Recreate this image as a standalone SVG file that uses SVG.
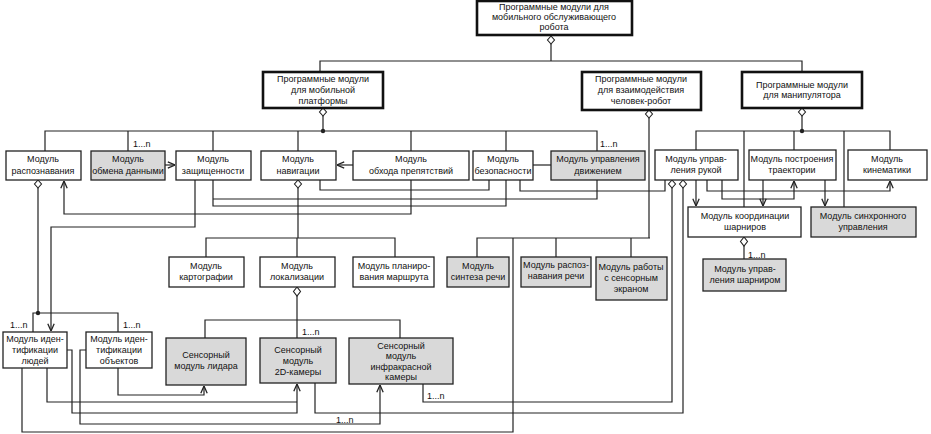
<svg xmlns="http://www.w3.org/2000/svg" width="931" height="434" viewBox="0 0 931 434">
<defs>
<style>
.b{fill:#fff;stroke:#222;stroke-width:1.3}
.g{fill:#d9d9d9;stroke:#222;stroke-width:1.3}
.t{fill:#fff;stroke:#111;stroke-width:2.6}
text{font-family:"Liberation Sans",Arial,sans-serif;font-size:9px;fill:#111;text-anchor:middle}
.l{text-anchor:start}
.c{fill:none;stroke:#222;stroke-width:1.2}
.a{fill:none;stroke:#222;stroke-width:1.2;marker-end:url(#ar)}
.d{fill:#fff;stroke:#222;stroke-width:1.1}
</style>
<marker id="ar" viewBox="0 0 10 10" refX="10" refY="5" markerWidth="8" markerHeight="8" markerUnits="userSpaceOnUse" orient="auto">
<path d="M1,1 L10,5 L1,9" fill="none" stroke="#222" stroke-width="1.6"/>
</marker>
</defs>
<rect width="931" height="434" fill="#fff"/>
<g id="connectors">
<path class="c" d="M551,44V61M320,72V61H802V72"/>
<path class="c" d="M323,116V131M45,151V131H597V151M128,131V151M213,131V151M298,131V151M411,131V151M506,131V151"/>
<path class="c" d="M649,118V238M477,257V238H650M556,238V257M631,238V257"/>
<path class="c" d="M802,116V131M696,150V131H890V150M744,131V207M794,131V150M844,131V207"/>
<path class="a" d="M165,165H175"/>
<path class="a" d="M353,165H337"/>
<path class="c" d="M533,165H551"/>
<path class="c" d="M320,180V190H489V180"/>
<path class="c" d="M213,180V206H506V180M213,199H597V180"/>
<path class="a" d="M411,180V214H64V181"/>
<path class="c" d="M520,180V191H665V180"/>
<path class="a" d="M195,180V227H51V331"/>
<path class="a" d="M696,180V206"/>
<path class="a" d="M707,180V191H890V181"/>
<path class="a" d="M722,180V199H794V181"/>
<path class="a" d="M763,180V206"/>
<path class="a" d="M825,180V206"/>
<path class="c" d="M744,246V259"/>
<path class="c" d="M298,188V238M206,257V238H395V257M297,238V257"/>
<path class="c" d="M297,296V338M205,338V320H400V338"/>
<path class="c" d="M38,188V313M33,332V313H118V332"/>
<path class="c" d="M22,368V432H513V238"/>
<path class="a" d="M118,368V395H204V386"/>
<path class="a" d="M67,350H72V413H297V384"/>
<path class="a" d="M86,350H80V424H380V385"/>
<path class="c" d="M672,188V402H423V384"/>
<path class="c" d="M683,188V413H315V383"/>
<path class="c" d="M47,368V402H297"/>
<path class="d" d="M551,36l-3.5,4 3.5,4 3.5,-4z"/>
<path class="d" d="M323,108l-3.5,4 3.5,4 3.5,-4z"/>
<path class="d" d="M649,110l-3.5,4 3.5,4 3.5,-4z"/>
<path class="d" d="M802,108l-3.5,4 3.5,4 3.5,-4z"/>
<path class="d" d="M38,180l-3.5,4 3.5,4 3.5,-4z"/>
<path class="d" d="M298,180l-3.5,4 3.5,4 3.5,-4z"/>
<path class="d" d="M672,180l-3.5,4 3.5,4 3.5,-4z"/>
<path class="d" d="M683,180l-3.5,4 3.5,4 3.5,-4z"/>
<path class="d" d="M744,237l-3.5,4.5 3.5,4.5 3.5,-4.5z"/>
<path class="d" d="M297,287l-3.5,4.5 3.5,4.5 3.5,-4.5z"/>
<circle cx="323" cy="131" r="2.2" fill="#222"/>
<circle cx="802" cy="131" r="2.2" fill="#222"/>
<circle cx="38" cy="313" r="2.2" fill="#222"/>
<text class="l" x="133" y="147">1...n</text>
<text class="l" x="600" y="147">1...n</text>
<text class="l" x="10" y="328">1...n</text>
<text class="l" x="123" y="328">1...n</text>
<text class="l" x="302" y="335">1...n</text>
<text class="l" x="427" y="399">1...n</text>
<text class="l" x="336" y="423">1...n</text>
<text class="l" x="748" y="258">1...n</text>
</g>
<g id="n-root"><rect class="t" x="477" y="1" width="155" height="34"/><text x="554" y="10">Программные модули для</text><text x="554" y="20">мобильного обслуживающего</text><text x="554" y="30">робота</text></g>
<g id="n-platform"><rect class="t" x="263" y="72" width="120" height="36"/><text x="323" y="82">Программные модули</text><text x="323" y="93">для мобильной</text><text x="323" y="104">платформы</text></g>
<g id="n-hri"><rect class="t" x="582" y="72" width="119" height="38"/><text x="641" y="82">Программные модули</text><text x="641" y="93">для взаимодействия</text><text x="641" y="104">человек-робот</text></g>
<g id="n-manip"><rect class="t" x="742" y="72" width="120" height="36"/><text x="802" y="88">Программные модули</text><text x="802" y="98">для манипулятора</text></g>
<g id="n-recog"><rect class="b" x="6" y="151" width="75" height="29"/><text x="43" y="162">Модуль</text><text x="43" y="174">распознавания</text></g>
<g id="n-exchange"><rect class="g" x="91" y="151" width="74" height="29"/><text x="128" y="162">Модуль</text><text x="128" y="174">обмена данными</text></g>
<g id="n-security"><rect class="b" x="176" y="151" width="75" height="29"/><text x="213" y="162">Модуль</text><text x="213" y="174">защищенности</text></g>
<g id="n-nav"><rect class="b" x="261" y="151" width="75" height="29"/><text x="298" y="162">Модуль</text><text x="298" y="174">навигации</text></g>
<g id="n-obstacle"><rect class="b" x="353" y="151" width="116" height="29"/><text x="411" y="162">Модуль</text><text x="411" y="174">обхода препятствий</text></g>
<g id="n-safety"><rect class="b" x="473" y="151" width="60" height="29"/><text x="503" y="162">Модуль</text><text x="503" y="174">безопасности</text></g>
<g id="n-motion"><rect class="g" x="551" y="151" width="94" height="29"/><text x="598" y="162">Модуль управления</text><text x="598" y="174">движением</text></g>
<g id="n-arm"><rect class="b" x="655" y="150" width="83" height="30"/><text x="696" y="162">Модуль управ-</text><text x="696" y="173">ления рукой</text></g>
<g id="n-traj"><rect class="b" x="749" y="150" width="87" height="30"/><text x="792" y="162">Модуль построения</text><text x="792" y="173">траектории</text></g>
<g id="n-kin"><rect class="b" x="848" y="150" width="79" height="30"/><text x="887" y="162">Модуль</text><text x="887" y="173">кинематики</text></g>
<g id="n-coord"><rect class="b" x="688" y="207" width="113" height="30"/><text x="745" y="219">Модуль координации</text><text x="745" y="230">шарниров</text></g>
<g id="n-sync"><rect class="g" x="811" y="207" width="105" height="30"/><text x="863" y="219">Модуль синхронного</text><text x="863" y="230">управления</text></g>
<g id="n-joint"><rect class="g" x="703" y="259" width="83" height="32"/><text x="745" y="272">Модуль управ-</text><text x="745" y="283">ления шарниром</text></g>
<g id="n-map"><rect class="b" x="169" y="257" width="75" height="30"/><text x="206" y="269">Модуль</text><text x="206" y="280">картографии</text></g>
<g id="n-loc"><rect class="b" x="260" y="257" width="75" height="30"/><text x="297" y="269">Модуль</text><text x="297" y="280">локализации</text></g>
<g id="n-route"><rect class="b" x="353" y="257" width="81" height="30"/><text x="394" y="269">Модуль планиро-</text><text x="394" y="280">вания маршрута</text></g>
<g id="n-speech"><rect class="g" x="447" y="257" width="62" height="30"/><text x="478" y="269">Модуль</text><text x="478" y="280">синтеза речи</text></g>
<g id="n-asr"><rect class="g" x="521" y="257" width="70" height="30"/><text x="556" y="268">Модуль распоз-</text><text x="556" y="279">навания речи</text></g>
<g id="n-touch"><rect class="g" x="596" y="257" width="71" height="43"/><text x="631" y="270">Модуль работы</text><text x="631" y="281">с сенсорным</text><text x="631" y="292">экраном</text></g>
<g id="n-people"><rect class="b" x="3" y="332" width="64" height="36"/><text x="35" y="342">Модуль иден-</text><text x="35" y="353">тификации</text><text x="35" y="364">людей</text></g>
<g id="n-objects"><rect class="b" x="86" y="332" width="66" height="36"/><text x="119" y="342">Модуль иден-</text><text x="119" y="353">тификации</text><text x="119" y="364">объектов</text></g>
<g id="n-lidar"><rect class="g" x="166" y="338" width="80" height="47"/><text x="206" y="358">Сенсорный</text><text x="206" y="369">модуль лидара</text></g>
<g id="n-cam2d"><rect class="g" x="260" y="338" width="76" height="45"/><text x="298" y="353">Сенсорный</text><text x="298" y="364">модуль</text><text x="298" y="375">2D-камеры</text></g>
<g id="n-ir"><rect class="g" x="349" y="338" width="104" height="46"/><text x="401" y="349">Сенсорный</text><text x="401" y="359">модуль</text><text x="401" y="370">инфракрасной</text><text x="401" y="380">камеры</text></g>
</svg>
